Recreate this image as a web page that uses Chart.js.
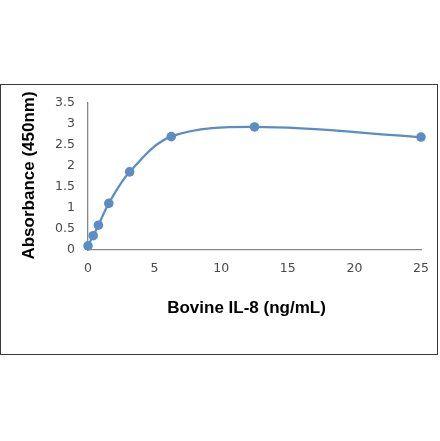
<!DOCTYPE html>
<html>
<head>
<meta charset="utf-8">
<script src="https://cdn.jsdelivr.net/npm/chart.js@4"></script>
<style>
html,body{margin:0;padding:0;background:#fff;}
#wrap{position:absolute;left:0;top:0;width:440px;height:441px;}
</style>
</head>
<body>
<div id="wrap"><canvas id="c" width="440" height="441"></canvas></div>
<script>
const concentrations = [0, 0.390625, 0.78125, 1.5625, 3.125, 6.25, 12.5, 25];
const absorbance = [0.10, 0.34, 0.59, 1.11, 1.86, 2.70, 2.93, 2.69];
const xTicks = [0, 5, 10, 15, 20, 25];
const yTicks = [0, 0.5, 1, 1.5, 2, 2.5, 3, 3.5];
const xTitle = 'Bovine IL-8 (ng/mL)';
const yTitle = 'Absorbance (450nm)';

const lineColor = '#5B8CC4';
const tickFont = {family: 'DejaVu Sans', size: 12.5};
const titleFont = 'bold 17px "Liberation Sans", Arial, sans-serif';

const frameAndTitles = {
  id: 'frameAndTitles',
  afterDraw(chart) {
    const ctx = chart.ctx;
    const ca = chart.chartArea;
    ctx.save();
    ctx.strokeStyle = '#3a3a3a';
    ctx.lineWidth = 1;
    ctx.strokeRect(0.5, 84.5, 437, 270);
    ctx.fillStyle = '#000';
    ctx.font = titleFont;
    ctx.textAlign = 'center';
    ctx.textBaseline = 'middle';
    ctx.fillText(xTitle, 246.5, 308);
    ctx.translate(29, (ca.top + ca.bottom) / 2 - 1);
    ctx.rotate(-Math.PI / 2);
    ctx.fillText(yTitle, 0, 0);
    ctx.restore();
  }
};

new Chart(document.getElementById('c'), {
  type: 'scatter',
  data: {
    datasets: [{
      data: concentrations.map((x, i) => ({x: x, y: absorbance[i]})),
      showLine: true,
      clip: false,
      borderColor: lineColor,
      backgroundColor: lineColor,
      borderWidth: 2.2,
      pointRadius: 4.8,
      pointHoverRadius: 4.8,
      pointBorderWidth: 0,
      tension: 0.35
    }]
  },
  options: {
    responsive: false,
    animation: false,
    events: [],
    layout: {padding: {left: 0, right: 19, top: 103, bottom: 111}},
    plugins: {legend: {display: false}, tooltip: {enabled: false}},
    scales: {
      x: {
        type: 'linear',
        min: 0, max: 25,
        afterBuildTicks(s) { s.ticks = xTicks.map(v => ({value: v})); },
        afterFit(s) { s.height = 80; },
        grid: {display: false, drawTicks: false},
        border: {display: true, color: '#868686', width: 1.3},
        ticks: {font: tickFont, color: '#4a4a4a', padding: 11, maxRotation: 0,
                callback: v => String(v)}
      },
      y: {
        type: 'linear',
        min: 0, max: 3.5,
        afterBuildTicks(s) { s.ticks = yTicks.map(v => ({value: v})); },
        afterFit(s) { s.width = 88; },
        grid: {display: false, drawTicks: false},
        border: {display: true, color: '#868686', width: 1.3},
        ticks: {font: tickFont, color: '#4a4a4a', padding: 13,
                callback: v => String(v)}
      }
    }
  },
  plugins: [frameAndTitles]
});
</script>
</body>
</html>
